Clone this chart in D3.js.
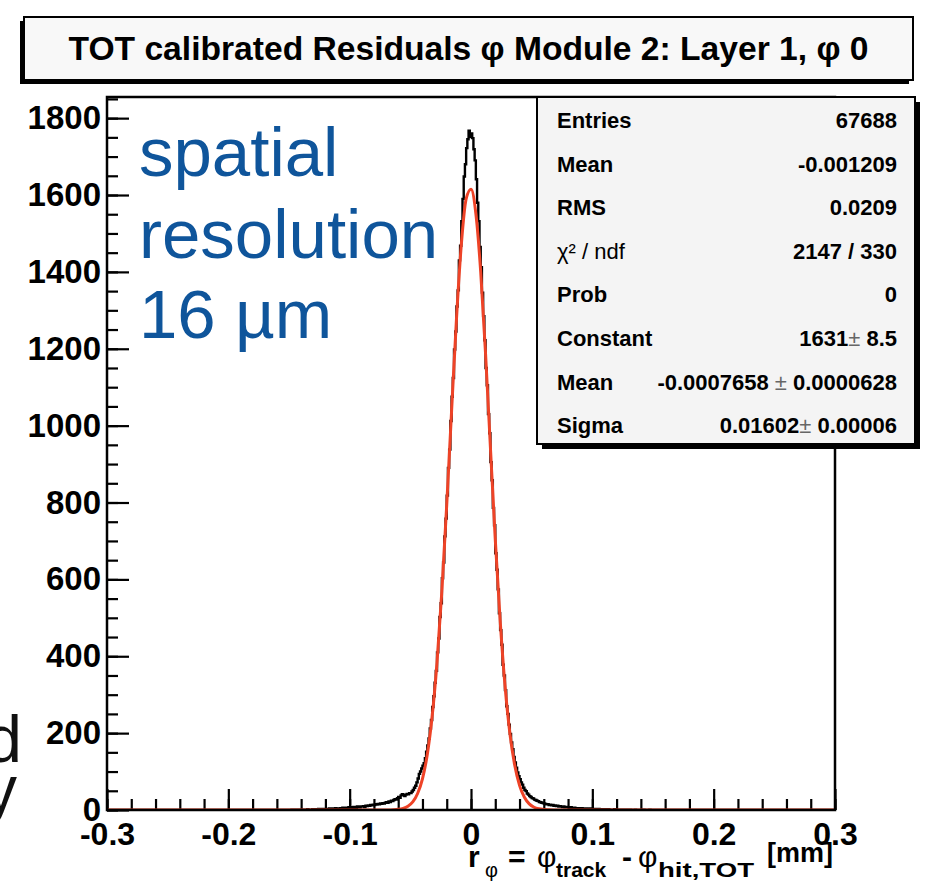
<!DOCTYPE html>
<html>
<head>
<meta charset="utf-8">
<script src="https://cdn.jsdelivr.net/npm/d3@7"></script>
<style>
  body { margin: 0; background: #fff; }
  svg { display: block; font-family: "Liberation Sans", Arial, sans-serif; }
</style>
</head>
<body>
<div id="chart"></div>
<script>
// histogram: 0.001 mm bins, filled from -0.150 mm to +0.150 mm (empty outside)
var histStart = -0.15;
var binWidth = 0.001;
var counts = [
  // -0.150 .. -0.101
  0, 0, 1, 0, 1, 0, 0, 1, 0, 1,
  1, 0, 1, 1, 0, 2, 1, 0, 1, 2,
  1, 2, 1, 2, 3, 1, 2, 3, 2, 2,
  3, 2, 3, 4, 2, 4, 3, 3, 5, 4,
  4, 3, 5, 4, 6, 5, 4, 6, 5, 7,
  // -0.100 .. -0.051
  6, 7, 5, 8, 7, 6, 9, 8, 7, 9,
  9, 10, 8, 11, 10, 12, 11, 13, 12, 14,
  13, 15, 14, 16, 15, 17, 16, 18, 17, 19,
  20, 19, 22, 21, 24, 23, 26, 28, 27, 31,
  34, 32, 38, 41, 39, 36, 40, 42, 41, 44,
  // -0.050 .. -0.001
  44, 48, 52, 58, 63, 72, 82, 94, 100, 108,
  115, 122, 135, 152, 168, 186, 212, 234, 268, 296,
  331, 362, 410, 446, 502, 538, 603, 644, 712, 758,
  818, 890, 938, 1012, 1075, 1124, 1198, 1245, 1310, 1352,
  1430, 1468, 1532, 1590, 1648, 1680, 1722, 1745, 1767, 1751,
  // 0.000 .. 0.049
  1760, 1748, 1719, 1690, 1641, 1580, 1532, 1465, 1412, 1346,
  1285, 1222, 1150, 1105, 1030, 980, 905, 858, 786, 741,
  668, 625, 574, 512, 468, 430, 378, 350, 312, 270,
  250, 222, 198, 176, 158, 138, 124, 110, 98, 88,
  80, 72, 66, 58, 52, 49, 43, 40, 36, 34,
  // 0.050 .. 0.099
  31, 30, 27, 26, 24, 23, 21, 20, 19, 18,
  17, 16, 15, 15, 13, 14, 12, 13, 11, 12,
  10, 11, 9, 10, 9, 8, 9, 7, 8, 7,
  7, 6, 7, 5, 6, 6, 5, 4, 5, 5,
  4, 5, 4, 3, 4, 4, 3, 3, 4, 2,
  // 0.100 .. 0.149
  3, 2, 3, 2, 2, 3, 1, 2, 2, 1,
  2, 1, 1, 2, 1, 0, 1, 1, 2, 0,
  1, 0, 1, 1, 0, 1, 0, 0, 1, 0,
  0, 1, 0, 0, 0, 1, 0, 0, 0, 0,
  0, 0, 1, 0, 0, 0, 0, 1, 0, 0
];

// gaussian fit curve
var fitX = [-0.3, -0.072, -0.068, -0.064, -0.06, -0.056, -0.052, -0.048, -0.044, -0.04, -0.036,
  -0.032, -0.028, -0.024, -0.02, -0.016, -0.012, -0.008, -0.004, 0, 0.004, 0.008, 0.012,
  0.016, 0.02, 0.024, 0.028, 0.032, 0.036, 0.04, 0.044, 0.048, 0.052, 0.056, 0.06,
  0.064, 0.068, 0.072, 0.3];
var fitY = [0, 0.1, 0.2, 0.7, 1.8, 4.3, 9.8, 21, 43, 81, 145,
  244, 385, 570, 794, 1038, 1276, 1470, 1590, 1615, 1552, 1400, 1187,
  943, 704, 494, 325, 201, 117, 64, 33, 16, 7.2, 3.1, 1.2,
  0.5, 0.2, 0.1, 0];

var xMajor = [-0.3, -0.2, -0.1, 0, 0.1, 0.2, 0.3];
var xMajorLabels = ["-0.3", "-0.2", "-0.1", "0", "0.1", "0.2", "0.3"];
var yMajor = [0, 200, 400, 600, 800, 1000, 1200, 1400, 1600, 1800];

var titleText = "TOT calibrated Residuals \u03c6 Module 2: Layer 1, \u03c6 0";
var statLabels = ["Entries", "Mean", "RMS", "\u03c7\u00b2 / ndf", "Prob", "Constant", "Mean", "Sigma"];
var statValues = ["67688", "-0.001209", "0.0209", "2147 / 330", "0",
  "1631\u00b1 8.5", "-0.0007658 \u00b1 0.0000628", "0.01602\u00b1 0.00006"];
var noteLines = ["spatial", "resolution", "16 \u00b5m"];

// svg container
var svgWidth = 928;
var svgHeight = 882;

// frame (pixel box of the ROOT pad frame)
var frame = { left: 107, right: 835, top: 97, bottom: 810 };

var svg = d3.select("#chart").append("svg")
  .attr("width", svgWidth)
  .attr("height", svgHeight);

var xScale = d3.scaleLinear().domain([-0.3, 0.3]).range([frame.left, frame.right]);
var yScale = d3.scaleLinear().domain([0, 1855]).range([frame.bottom, frame.top]);

// cut-off slide text on the left
svg.append("text").attr("x", 22).attr("y", 762).attr("text-anchor", "end")
  .style("font-size", "66px").attr("fill", "#111").text("d");
svg.append("text").attr("x", 17).attr("y", 812).attr("text-anchor", "end")
  .style("font-size", "66px").attr("fill", "#111").text("y");

// clip for data inside frame
svg.append("clipPath").attr("id", "clip")
  .append("rect")
  .attr("x", frame.left).attr("y", frame.top)
  .attr("width", frame.right - frame.left).attr("height", frame.bottom - frame.top);

// axes, ticks pointing into the frame
var xMinorTicks = d3.range(-15, 16).map(d => d * 0.02);
var yMinorTicks = d3.range(0, 38).map(d => d * 50);

svg.append("g")
  .attr("transform", `translate(0, ${frame.bottom})`)
  .call(d3.axisBottom(xScale).tickValues(xMinorTicks).tickSizeInner(-11).tickSizeOuter(0).tickFormat(""))
  .call(g => g.select(".domain").remove())
  .call(g => g.selectAll("line").attr("stroke", "#000").attr("stroke-width", 2.2));

svg.append("g")
  .attr("transform", `translate(0, ${frame.bottom})`)
  .call(d3.axisBottom(xScale).tickValues(xMajor).tickSizeInner(-21).tickSizeOuter(0).tickPadding(10)
    .tickFormat((d, i) => xMajorLabels[i]))
  .call(g => g.select(".domain").remove())
  .call(g => g.selectAll("line").attr("stroke", "#000").attr("stroke-width", 2.2))
  .call(g => g.selectAll("text").attr("fill", "#000").attr("dy", "0.78em")
    .style("font-size", "32px").style("font-weight", "bold").style("font-family", "Liberation Sans, Arial, sans-serif"));

svg.append("g")
  .attr("transform", `translate(${frame.left}, 0)`)
  .call(d3.axisLeft(yScale).tickValues(yMinorTicks).tickSizeInner(-11).tickSizeOuter(0).tickFormat(""))
  .call(g => g.select(".domain").remove())
  .call(g => g.selectAll("line").attr("stroke", "#000").attr("stroke-width", 2.2));

svg.append("g")
  .attr("transform", `translate(${frame.left}, 0)`)
  .call(d3.axisLeft(yScale).tickValues(yMajor).tickSizeInner(-22).tickSizeOuter(0).tickPadding(6)
    .tickFormat(d3.format("d")))
  .call(g => g.select(".domain").remove())
  .call(g => g.selectAll("line").attr("stroke", "#000").attr("stroke-width", 2.2))
  .call(g => g.selectAll("text").attr("fill", "#000")
    .style("font-size", "33px").style("font-weight", "bold").style("font-family", "Liberation Sans, Arial, sans-serif"));

// histogram as steps
var histPoints = [{ x: -0.3, c: 0 }];
counts.forEach(function(c, i) {
  histPoints.push({ x: histStart + i * binWidth, c: c });
});
histPoints.push({ x: histStart + counts.length * binWidth, c: 0 });
histPoints.push({ x: 0.3, c: 0 });

var histLine = d3.line()
  .x(d => xScale(d.x))
  .y(d => yScale(d.c))
  .curve(d3.curveStepAfter);

svg.append("path")
  .datum(histPoints)
  .attr("clip-path", "url(#clip)")
  .attr("d", histLine)
  .attr("fill", "none")
  .attr("stroke", "#000")
  .attr("stroke-width", 2.4);

// fit curve
var fitLine = d3.line()
  .x((d, i) => xScale(fitX[i]))
  .y(d => yScale(d))
  .curve(d3.curveMonotoneX);

svg.append("path")
  .datum(fitY)
  .attr("clip-path", "url(#clip)")
  .attr("d", fitLine)
  .attr("fill", "none")
  .attr("stroke", "#ee4327")
  .attr("stroke-width", 3);

// frame
svg.append("rect")
  .attr("x", frame.left).attr("y", frame.top)
  .attr("width", frame.right - frame.left).attr("height", frame.bottom - frame.top)
  .attr("fill", "none").attr("stroke", "#000").attr("stroke-width", 2.5);

// x axis title, pieces placed like the ROOT latex
var xTitle = svg.append("text").style("font-weight", "bold");
xTitle.append("tspan").attr("x", 468).attr("y", 867).style("font-size", "30px").text("r");
xTitle.append("tspan").attr("x", 485).attr("y", 877).style("font-size", "20px").style("font-weight", "normal").text("\u03c6");
xTitle.append("tspan").attr("x", 508).attr("y", 867).style("font-size", "30px").text("=");
xTitle.append("tspan").attr("x", 537).attr("y", 867).style("font-size", "30px").style("font-weight", "normal").text("\u03c6");
xTitle.append("tspan").attr("x", 556).attr("y", 877).style("font-size", "21px").text("track");
xTitle.append("tspan").attr("x", 622).attr("y", 867).style("font-size", "30px").text("-");
xTitle.append("tspan").attr("x", 638).attr("y", 867).style("font-size", "30px").style("font-weight", "normal").text("\u03c6");
xTitle.append("tspan").attr("x", 658).attr("y", 877).style("font-size", "21px")
  .attr("textLength", 96).attr("lengthAdjust", "spacingAndGlyphs").text("hit,TOT");
xTitle.append("tspan").attr("x", 767).attr("y", 862).style("font-size", "27px").text("[mm]");

// blue annotation
svg.append("g").selectAll("text")
  .data(noteLines)
  .enter()
  .append("text")
  .attr("x", 139)
  .attr("y", (d, i) => [176, 258, 338][i])
  .attr("fill", "#0f559b")
  .style("font-size", "69px")
  .text(d => d);

// title box
var title = { x: 24, y: 17, w: 889, h: 63 };
svg.append("rect")
  .attr("x", title.x - 4).attr("y", title.y + 4)
  .attr("width", title.w).attr("height", title.h)
  .attr("fill", "#000");
svg.append("rect")
  .attr("x", title.x).attr("y", title.y)
  .attr("width", title.w).attr("height", title.h)
  .attr("fill", "#f8f8f8").attr("stroke", "#000").attr("stroke-width", 2);
var titleEl = svg.append("text")
  .attr("x", title.x + title.w / 2).attr("y", 60)
  .attr("text-anchor", "middle")
  .style("font-size", "33px").style("font-weight", "bold")
  .attr("textLength", 800).attr("lengthAdjust", "spacingAndGlyphs");
titleEl.text(titleText);

// stats box
var stats = { x: 537, y: 97, w: 378, h: 347 };
svg.append("rect")
  .attr("x", stats.x + 5).attr("y", stats.y + 5)
  .attr("width", stats.w).attr("height", stats.h)
  .attr("fill", "#000");
svg.append("rect")
  .attr("x", stats.x).attr("y", stats.y)
  .attr("width", stats.w).attr("height", stats.h)
  .attr("fill", "#f4f4f4").attr("stroke", "#000").attr("stroke-width", 2);

var statRows = svg.append("g").selectAll("g")
  .data(statLabels)
  .enter()
  .append("g")
  .attr("transform", (d, i) => `translate(0, ${120 + i * 43.6})`);

statRows.append("text")
  .attr("x", 557).attr("dy", "0.36em")
  .style("font-size", "22px").style("font-weight", (d, i) => i === 3 ? "normal" : "bold")
  .text(d => d);

statRows.append("text")
  .attr("x", 897).attr("dy", "0.36em")
  .attr("text-anchor", "end")
  .style("font-size", "22px").style("font-weight", "bold")
  .each(function(d, i) {
    var parts = statValues[i].split("\u00b1");
    var t = d3.select(this);
    t.append("tspan").text(parts[0]);
    if (parts.length > 1) {
      t.append("tspan").style("font-weight", "normal").attr("fill", "#666").text("\u00b1");
      t.append("tspan").text(parts[1]);
    }
  });
</script>
</body>
</html>
